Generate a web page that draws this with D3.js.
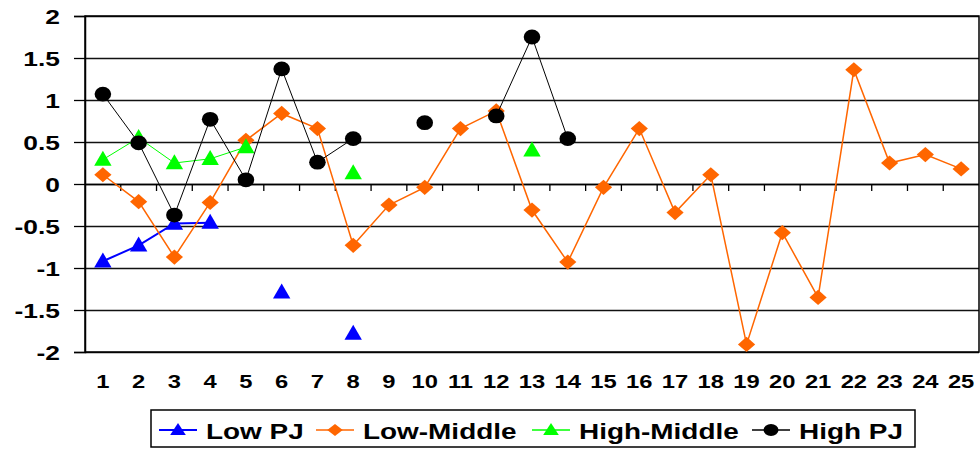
<!DOCTYPE html>
<html>
<head>
<meta charset="utf-8">
<script src="https://cdn.jsdelivr.net/npm/d3@7"></script>
<style>
  html, body { margin: 0; padding: 0; background: #fff; }
  svg { display: block; }
  text { font-family: "Liberation Sans", Arial, sans-serif; font-weight: bold; fill: #000; }
</style>
</head>
<body>
<svg id="chart" width="980" height="455"></svg>
<script>
// Categories along the x axis
const categories = d3.range(1, 26);

// Y axis tick values
const yTicks = [-2, -1.5, -1, -0.5, 0, 0.5, 1, 1.5, 2];
const yTickLabels = ["-2", "-1.5", "-1", "-0.5", "0", "0.5", "1", "1.5", "2"];

// Series values (null = no observation)
const lowPJ = [-0.92, -0.73, -0.47, -0.46, null, -1.29, null, -1.78, null, null,
               null, null, null, null, null, null, null, null, null, null,
               null, null, null, null, null];
const lowMiddle = [0.11, -0.21, -0.87, -0.22, 0.52, 0.84, 0.66, -0.73, -0.25, -0.04,
                   0.66, 0.87, -0.31, -0.93, -0.04, 0.66, -0.34, 0.11, -1.91, -0.58,
                   -1.35, 1.36, 0.25, 0.35, 0.18];
const highMiddle = [0.29, 0.55, 0.25, 0.30, 0.44, null, null, 0.13, null, null,
                    null, null, 0.40, null, null, null, null, null, null, null,
                    null, null, null, null, null];
const highPJ = [1.07, 0.49, -0.37, 0.77, 0.05, 1.37, 0.26, 0.54, null, 0.73,
                null, 0.81, 1.75, 0.54, null, null, null, null, null, null,
                null, null, null, null, null];

const seriesNames = ["Low PJ", "Low-Middle", "High-Middle", "High PJ"];

const series = [
  { name: seriesNames[0], values: lowPJ,      color: "#0000FF", width: 2,   marker: "triangle" },
  { name: seriesNames[1], values: lowMiddle,  color: "#FF6600", width: 1.5, marker: "diamond" },
  { name: seriesNames[2], values: highMiddle, color: "#00FF00", width: 1,   marker: "triangle" },
  { name: seriesNames[3], values: highPJ,     color: "#000000", width: 1,   marker: "circle" }
];

const svg = d3.select("#chart");
const plot = { left: 85, right: 979, top: 16, bottom: 352 };

const x = d3.scaleBand().domain(categories).range([plot.left, plot.right]).padding(0);
const y = d3.scaleLinear().domain([-2, 2]).range([plot.bottom, plot.top]);
const cx = c => x(c) + x.bandwidth() / 2;

// Horizontal gridlines
svg.append("g")
  .selectAll("line")
  .data(yTicks)
  .join("line")
  .attr("x1", plot.left).attr("x2", plot.right)
  .attr("y1", d => Math.round(y(d)) + 0.5).attr("y2", d => Math.round(y(d)) + 0.5)
  .attr("stroke", "#111").attr("stroke-width", 1.3);

// Plot frame
svg.append("rect")
  .attr("x", plot.left).attr("y", plot.top)
  .attr("width", plot.right - plot.left).attr("height", plot.bottom - plot.top)
  .attr("fill", "none").attr("stroke", "#000").attr("stroke-width", 1.5);

// Y axis with outside ticks and labels
const yAxis = svg.append("g")
  .attr("transform", `translate(${plot.left},0)`)
  .call(d3.axisLeft(y).tickValues(yTicks).tickSize(11)
        .tickFormat((d, i) => yTickLabels[i]));
yAxis.select(".domain").attr("stroke", "#000").attr("stroke-width", 1.5);
yAxis.selectAll(".tick line").attr("stroke", "#000").attr("stroke-width", 1.3);
yAxis.selectAll(".tick text")
  .attr("x", 0).attr("dy", "0.36em")
  .attr("text-anchor", "end")
  .attr("transform", "translate(-25,0) scale(1.32,1)")
  .style("font-size", "20px")
  .style("font-family", "'Liberation Sans', Arial, sans-serif")
  .style("font-weight", "bold")
  .attr("fill", "#000");

// X axis along zero with ticks at category boundaries
const xAxisG = svg.append("g");
xAxisG.append("line")
  .attr("x1", plot.left).attr("x2", plot.right)
  .attr("y1", Math.round(y(0)) + 0.5).attr("y2", Math.round(y(0)) + 0.5)
  .attr("stroke", "#000").attr("stroke-width", 1.5);
xAxisG.selectAll("line.tk")
  .data(categories.slice(1))
  .join("line").attr("class", "tk")
  .attr("x1", d => x(d)).attr("x2", d => x(d))
  .attr("y1", y(0)).attr("y2", y(0) + 7)
  .attr("stroke", "#000").attr("stroke-width", 1.3);

// Category labels below the plot
svg.append("g")
  .selectAll("text")
  .data(categories)
  .join("text")
  .attr("text-anchor", "middle")
  .attr("transform", d => `translate(${cx(d)},388) scale(1.25,1)`)
  .style("font-size", "19px")
  .text(d => d);

// Marker shapes (slightly wider than tall)
function drawMarker(g, m, color) {
  if (m === "triangle") {
    g.append("path").attr("d", "M0,-8.8L8.7,6.2L-8.7,6.2Z").attr("fill", color);
  } else if (m === "diamond") {
    g.append("path").attr("d", "M0,-7.6L8.6,0L0,7.6L-8.6,0Z").attr("fill", color);
  } else {
    g.append("ellipse").attr("rx", 8.3).attr("ry", 7.4).attr("fill", color);
  }
}

const line = d3.line()
  .defined(d => d.v !== null)
  .x(d => cx(d.c))
  .y(d => y(d.v));

series.forEach(s => {
  const pts = categories.map((c, i) => ({ c, v: s.values[i] }));
  const g = svg.append("g");
  g.append("path")
    .datum(pts)
    .attr("d", line)
    .attr("fill", "none")
    .attr("stroke", s.color)
    .attr("stroke-width", s.width);
  pts.filter(d => d.v !== null).forEach(d => {
    const mg = g.append("g").attr("transform", `translate(${cx(d.c)},${y(d.v)})`);
    drawMarker(mg, s.marker, s.color);
  });
});

// Legend
const legend = svg.append("g");
legend.append("rect")
  .attr("x", 151).attr("y", 410).attr("width", 764).attr("height", 37)
  .attr("fill", "#fff").attr("stroke", "#000").attr("stroke-width", 1.5);

const legendX = [159, 316, 532, 752];
series.forEach((s, i) => {
  const lg = legend.append("g").attr("transform", `translate(${legendX[i]},430)`);
  lg.append("line").attr("x1", 0).attr("x2", 38).attr("y1", 0).attr("y2", 0)
    .attr("stroke", s.color).attr("stroke-width", s.width === 2 ? 2 : 1.3);
  const mg = lg.append("g").attr("transform", "translate(19,0) scale(0.9,0.8)");
  drawMarker(mg, s.marker, s.color);
  lg.append("text")
    .attr("transform", "translate(47,8.5) scale(1.27,1)")
    .style("font-size", "22px")
    .text(s.name);
});
</script>
</body>
</html>
